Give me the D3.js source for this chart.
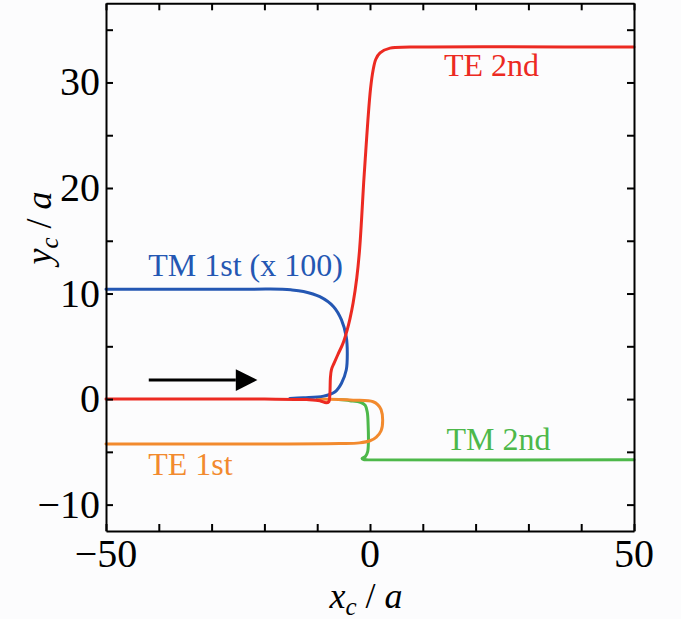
<!DOCTYPE html>
<html><head><meta charset="utf-8">
<script src="https://cdn.jsdelivr.net/npm/d3@7"></script>
<style>
html,body{margin:0;padding:0;background:#fcfcfd;}
svg{display:block;}
text{font-family:"Liberation Serif","Times New Roman",serif;}
</style></head>
<body>
<svg id="chart" width="681" height="619"></svg>
<script>
// ---- data ----
const xDomain = [-50, 50];
const yDomain = [-12.5, 37.5];
const xTickLabels = [-50, 0, 50];
const yTickLabels = [-10, 0, 10, 20, 30];
const xMinorTicks = [-40, -30, -20, -10, 10, 20, 30, 40];
const yMinorTicks = [-5, 5, 15, 25, 35];

const teSecond = [[-50,0],[-20,0],[-12,-0.05],[-9.5,-0.15],[-8.3,-0.35],[-7.8,-0.25],[-7.6,0.5],[-7.5,2.0],[-7.3,2.8],[-6.8,3.4],[-6.1,4.2],[-5.1,5.3],[-4.35,6.5],[-3.8,7.6],[-3.2,9.1],[-2.5,11.5],[-2.0,14],[-1.6,17],[-1.2,20.5],[-0.8,23.5],[-0.4,26.4],[0.1,29.4],[0.6,31.2],[1.1,32.2],[1.9,32.8],[3.8,33.25],[7.6,33.35],[50,33.35]];
const tmFirst = [[-50,10.4],[-25,10.4],[-18.9,10.42],[-15,10.35],[-12.6,10.2],[-9.5,9.7],[-6.9,8.75],[-5.4,7.5],[-4.5,5.9],[-4.3,4.3],[-4.5,2.75],[-5.4,1.5],[-6.6,0.7],[-8.8,0.28],[-12.6,0.12],[-15.2,0.05]];
const teFirst = [[-10,0],[-3.2,-0.1],[0.6,-0.25],[1.5,-0.55],[2.1,-1.0],[2.4,-2.0],[2.1,-3.0],[1.2,-3.6],[0,-3.95],[-2,-4.15],[-5.7,-4.22],[-20,-4.25],[-50,-4.25]];
const tmSecond = [[-6,-0.05],[-3.8,-0.15],[-1.8,-0.3],[-0.9,-0.6],[-0.5,-1.3],[-0.35,-2.5],[-0.3,-4.0],[-0.45,-5.0],[-0.9,-5.45],[-1.5,-5.62],[-1.2,-5.73],[-0.5,-5.75],[50,-5.75]];
const arrowData = [[-41.9,1.8],[-20.3,1.8]];

const seriesNames = ["TM 2nd","TE 1st","TM 1st (x 100)","TE 2nd"];
const seriesColors = ["#4db84a","#f28a2e","#2457b3","#ec2a22"];
const seriesData = [tmSecond, teFirst, tmFirst, teSecond];
const labelPos = [[14.5,-4.8],[-42,-7.2],[-42,11.7],[14,30.6]];

// ---- scales ----
const svg = d3.select("#chart");
const x = d3.scaleLinear().domain(xDomain).range([106, 634]);
const y = d3.scaleLinear().domain(yDomain).range([531, 3.3]);

const line = d3.line().x(d=>x(d[0])).y(d=>y(d[1])).curve(d3.curveCatmullRom.alpha(0.5));

const plot = svg.append("g");
seriesData.forEach((s,i)=>{
  plot.append("path").datum(s).attr("d", line)
    .attr("fill","none").attr("stroke", seriesColors[i])
    .attr("stroke-width", 3).attr("stroke-linejoin","round").attr("stroke-linecap","round");
});

// arrow
svg.append("defs").append("marker").attr("id","ah")
  .attr("viewBox","0 0 10 10").attr("refX",0).attr("refY",5)
  .attr("markerWidth",9).attr("markerHeight",7.2).attr("markerUnits","strokeWidth")
  .attr("orient","auto")
  .append("path").attr("d","M0,0 L10,5 L0,10 Z").attr("fill","#000");
svg.append("line")
  .attr("x1", x(arrowData[0][0])).attr("y1", y(arrowData[0][1]))
  .attr("x2", x(arrowData[1][0]) - 27).attr("y2", y(arrowData[1][1]))
  .attr("stroke","#000").attr("stroke-width",3).attr("marker-end","url(#ah)");

// labels
seriesNames.forEach((n,i)=>{
  svg.append("text").attr("x", x(labelPos[i][0])).attr("y", y(labelPos[i][1]))
    .attr("fill", seriesColors[i]).attr("font-size", 32).text(n);
});

// axes (frame with inward ticks)
const tl = 7;
const allX = xTickLabels.concat(xMinorTicks);
const allY = yTickLabels.concat(yMinorTicks);
const ax = svg.append("g");
ax.append("g").attr("transform",`translate(0,${y(yDomain[0])})`)
  .call(d3.axisBottom(x).tickValues(allX).tickSizeInner(-tl).tickSizeOuter(0).tickFormat(""));
ax.append("g").attr("transform",`translate(0,${y(yDomain[1])})`)
  .call(d3.axisTop(x).tickValues(allX).tickSizeInner(-tl).tickSizeOuter(0).tickFormat(""));
ax.append("g").attr("transform",`translate(${x(xDomain[0])},0)`)
  .call(d3.axisLeft(y).tickValues(allY).tickSizeInner(-tl).tickSizeOuter(0).tickFormat(""));
ax.append("g").attr("transform",`translate(${x(xDomain[1])},0)`)
  .call(d3.axisRight(y).tickValues(allY).tickSizeInner(-tl).tickSizeOuter(0).tickFormat(""));
ax.selectAll(".domain").attr("stroke","#000").attr("stroke-width",2);
ax.selectAll(".tick line").attr("stroke","#000").attr("stroke-width",2);

const fmt = v => v < 0 ? "\u2212" + Math.abs(v) : String(v);
// tick labels
svg.append("g").selectAll("text").data(xTickLabels).join("text")
  .attr("x", d=>x(d)).attr("y", 567).attr("text-anchor","middle")
  .attr("font-size", 40).attr("fill","#000").text(fmt);
svg.append("g").selectAll("text").data(yTickLabels).join("text")
  .attr("x", 100).attr("y", d=>y(d)+13).attr("text-anchor","end")
  .attr("font-size", 40).attr("fill","#000").text(fmt);

// axis titles
const xt = svg.append("text").attr("x", 366).attr("y", 608).attr("text-anchor","middle")
  .attr("font-size", 36).attr("font-style","italic").attr("fill","#000");
xt.append("tspan").text("x");
xt.append("tspan").attr("font-size", 25).attr("dy", 7).text("c");
xt.append("tspan").attr("dy", -7).attr("font-style","normal").text(" / ");
xt.append("tspan").text("a");

const yt = svg.append("text").attr("transform", `translate(51,228) rotate(-90)`)
  .attr("text-anchor","middle").attr("font-size", 36).attr("font-style","italic").attr("fill","#000");
yt.append("tspan").text("y");
yt.append("tspan").attr("font-size", 25).attr("dy", 7).text("c");
yt.append("tspan").attr("dy", -7).attr("font-style","normal").text(" / ");
yt.append("tspan").text("a");
</script>
</body></html>
